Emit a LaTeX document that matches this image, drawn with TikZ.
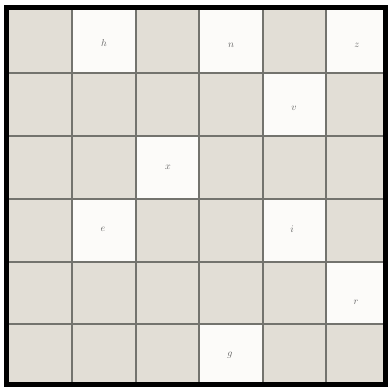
\documentclass[tikz,border=0pt]{standalone}
\begin{document}
\begin{tikzpicture}[x=1pt,y=-1pt,
  shaded/.style={fill={rgb,255:red,226;green,222;blue,214}},
  blank/.style={fill={rgb,255:red,252;green,251;blue,249}},
  gridline/.style={draw={rgb,255:red,115;green,115;blue,110},line width=1.3pt},
  frame/.style={draw=black,line width=5pt},
  letter/.style={text={rgb,255:red,100;green,100;blue,100},font=\normalsize}]
\useasboundingbox (0,0) rectangle (388,387);
\fill[white] (0,0) rectangle (388,387);
\def\xs{{8,72,136,199,263,326,385}}
\def\ys{{10,73,136,199,262,324,384}}
% all cells shaded first
\foreach \c in {0,...,5}{
  \foreach \r in {0,...,5}{
    \pgfmathsetmacro{\xa}{\xs[\c]}
    \pgfmathsetmacro{\xb}{\xs[\c+1]}
    \pgfmathsetmacro{\ya}{\ys[\r]}
    \pgfmathsetmacro{\yb}{\ys[\r+1]}
    \path[shaded] (\xa,\ya) rectangle (\xb,\yb);
  }
}
% white cells (col,row)
\foreach \c/\r in {1/0,3/0,5/0,4/1,2/2,1/3,4/3,5/4,3/5}{
    \pgfmathsetmacro{\xa}{\xs[\c]}
    \pgfmathsetmacro{\xb}{\xs[\c+1]}
    \pgfmathsetmacro{\ya}{\ys[\r]}
    \pgfmathsetmacro{\yb}{\ys[\r+1]}
    \path[blank] (\xa,\ya) rectangle (\xb,\yb);
}
% grid lines
\foreach \i in {1,...,5}{
  \pgfmathsetmacro{\xa}{\xs[\i]}
  \pgfmathsetmacro{\ya}{\ys[\i]}
  \draw[gridline] (\xa,10) -- (\xa,384);
  \draw[gridline] (8,\ya) -- (385,\ya);
}
\draw[frame] (6,7.5) rectangle (385.5,384.5);
% letters
\node[letter] (h) at (104,43) {$h$};
\node[letter] (n) at (231,45) {$n$};
\node[letter] (z) at (357,45) {$z$};
\node[letter] (v) at (294,108) {$v$};
\node[letter] (x) at (168,167) {$x$};
\node[letter] (e) at (103,229) {$e$};
\node[letter] (i) at (292,229) {$i$};
\node[letter] (r) at (356,302) {$r$};
\node[letter] (g) at (230,355) {$g$};
\end{tikzpicture}
\end{document}
